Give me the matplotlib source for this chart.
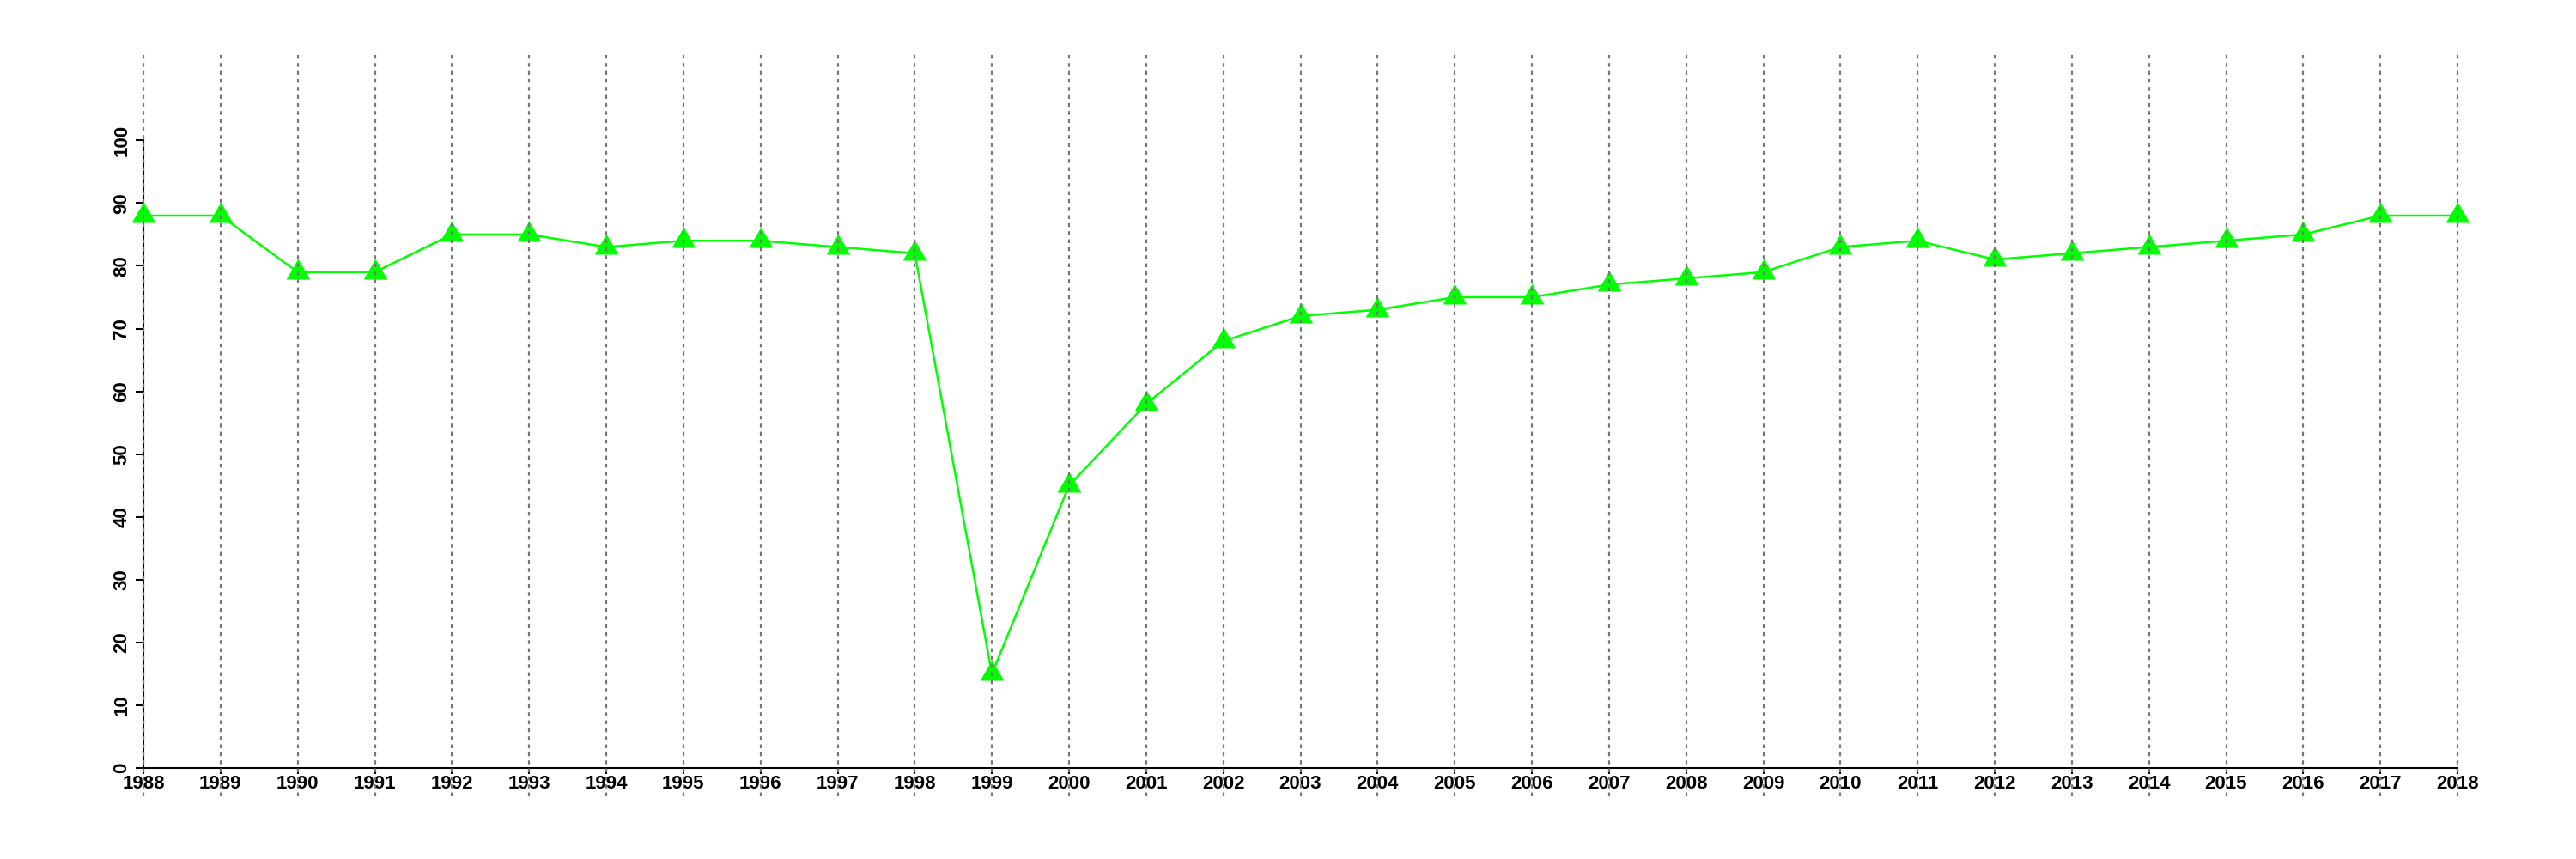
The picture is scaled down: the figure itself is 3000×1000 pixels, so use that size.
import matplotlib
matplotlib.use('Agg')
import matplotlib.pyplot as plt

years = list(range(1988, 2019))
values = [88, 88, 79, 79, 85, 85, 83, 84, 84, 83, 82, 15, 45, 58, 68, 72,
          73, 75, 75, 77, 78, 79, 83, 84, 81, 82, 83, 84, 85, 88, 88]
y_ticks = [0, 10, 20, 30, 40, 50, 60, 70, 80, 90, 100]

plt.rcParams['font.family'] = ['Liberation Sans', 'DejaVu Sans']

fig = plt.figure(figsize=(30, 10), dpi=100)
ax = fig.add_axes([167 / 3000, 0.106, 2695 / 3000, 0.7307])

# triangle centred on its centroid, like R's pch 17
tri = [(0, 1), (-0.866, -0.5), (0.866, -0.5), (0, 1)]
ax.plot(years, values, color='#00ff00', lw=1.8, marker=tri, ms=23,
        mfc='#00ff00', mec='#00ff00', mew=0, clip_on=False, zorder=3)

# dotted vertical guides that run past the axes
ax.vlines(years, -4.5, 114.2, colors='#777777', lw=1.6,
          linestyles=(0, (2, 2.2)), clip_on=False, zorder=4)

ax.set_xlim(1988, 2018)
ax.set_ylim(0, 100)
ax.set_xticks(years)
ax.set_xticklabels([str(y) for y in years], fontsize=16, fontweight='bold')
ax.set_yticks(y_ticks)
ax.set_yticklabels([str(v) for v in y_ticks], fontsize=16, fontweight='bold',
                   rotation=90, va='center')

for side in ['top', 'right']:
    ax.spines[side].set_visible(False)
for side in ['left', 'bottom']:
    ax.spines[side].set_linewidth(1.5)

ax.tick_params(axis='x', length=5, width=1.5, pad=1)
ax.tick_params(axis='y', length=6.5, width=1.5, pad=4)

fig.savefig('out.png', dpi=100)
